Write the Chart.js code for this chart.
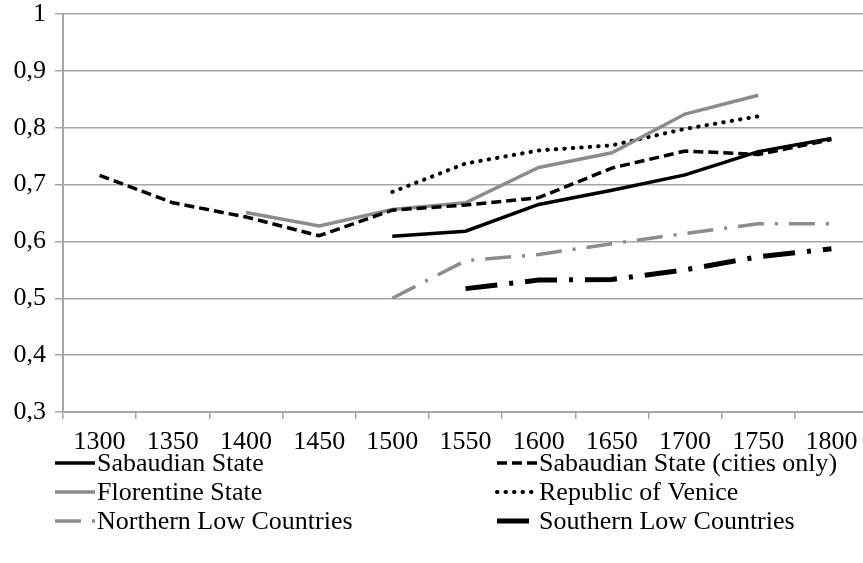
<!DOCTYPE html>
<html lang="en">
<head>
    <meta charset="UTF-8">
    <title>Gini by state</title>
    <script src="https://cdn.jsdelivr.net/npm/chart.js"></script>
    <style>
        html, body {
            margin: 0;
            padding: 0;
            background: #ffffff;
            overflow: hidden;
        }
    </style>
</head>
<body>
    <canvas id="chart" width="875" height="563"></canvas>

    <script>
        // categories and series
        const years = ["1300", "1350", "1400", "1450", "1500", "1550", "1600", "1650", "1700", "1750", "1800"];
        const yTickLabels = ["0,3", "0,4", "0,5", "0,6", "0,7", "0,8", "0,9", "1"];

        const sabaudian       = [null, null, null, null, 0.609, 0.618, 0.665, 0.690, 0.717, 0.758, 0.781];
        const sabaudianCities = [0.716, 0.668, 0.643, 0.610, 0.655, 0.664, 0.677, 0.729, 0.759, 0.753, 0.779];
        const florentine      = [null, null, 0.651, 0.627, 0.656, 0.668, 0.730, 0.756, 0.824, 0.857, null];
        const venice          = [null, null, null, null, 0.687, 0.737, 0.760, 0.769, 0.798, 0.820, null];
        const northernLC      = [null, null, null, null, 0.500, 0.566, 0.577, 0.596, 0.614, 0.631, 0.631];
        const southernLC      = [null, null, null, null, null, 0.517, 0.532, 0.533, 0.550, 0.573, 0.587];

        const seriesNames = [
            "Sabaudian State",
            "Sabaudian State (cities only)",
            "Florentine State",
            "Republic of Venice",
            "Northern Low Countries",
            "Southern Low Countries"
        ];

        const FONT = "'Liberation Serif', 'DejaVu Serif', serif";
        const GRID = "#a6a6a6";
        const GREY = "#8c8c8c";

        // legend drawn in two columns under the axis, like the original
        const legendPlugin = {
            id: "twoColLegend",
            afterDraw(chart) {
                const ctx = chart.ctx;
                const colX = [55, 497];
                const rowY = [463, 492, 521];
                ctx.save();
                ctx.font = "26px " + FONT;
                ctx.textBaseline = "middle";
                ctx.fillStyle = "#000";
                chart.data.datasets.forEach((ds, i) => {
                    const x = colX[i % 2];
                    const y = rowY[Math.floor(i / 2)];
                    ctx.beginPath();
                    ctx.strokeStyle = ds.borderColor;
                    ctx.lineWidth = ds.borderWidth;
                    ctx.lineCap = ds.borderCapStyle || "butt";
                    ctx.setLineDash(ds.borderDash || []);
                    ctx.moveTo(x, y);
                    ctx.lineTo(x + 40, y);
                    ctx.stroke();
                    ctx.setLineDash([]);
                    ctx.fillText(ds.label, x + 42, y + 1);
                });
                ctx.restore();
            }
        };

        new Chart(document.getElementById("chart"), {
            type: "line",
            data: {
                labels: years,
                datasets: [
                    { label: seriesNames[0], data: sabaudian, borderColor: "#000", borderWidth: 3.5, borderDash: [] },
                    { label: seriesNames[1], data: sabaudianCities, borderColor: "#000", borderWidth: 3.5, borderDash: [10, 5] },
                    { label: seriesNames[2], data: florentine, borderColor: GREY, borderWidth: 3.5, borderDash: [] },
                    { label: seriesNames[3], data: venice, borderColor: "#000", borderWidth: 4, borderDash: [0.5, 8], borderCapStyle: "round" },
                    { label: seriesNames[4], data: northernLC, borderColor: GREY, borderWidth: 3.5, borderDash: [26, 11, 3, 11] },
                    { label: seriesNames[5], data: southernLC, borderColor: "#000", borderWidth: 5, borderDash: [32, 12, 4, 12] }
                ]
            },
            options: {
                responsive: false,
                animation: false,
                spanGaps: false,
                elements: {
                    point: { radius: 0 },
                    line: { tension: 0, fill: false }
                },
                layout: {
                    padding: { top: 14, right: 7, left: 0, bottom: 0 }
                },
                plugins: {
                    legend: { display: false },
                    tooltip: { enabled: false }
                },
                scales: {
                    x: {
                        type: "category",
                        offset: true,
                        grid: {
                            offset: true,
                            drawOnChartArea: false,
                            drawTicks: true,
                            tickLength: 7,
                            color: GRID,
                            lineWidth: 1.5
                        },
                        border: { display: true, color: GRID, width: 2 },
                        ticks: {
                            color: "#000",
                            font: { family: FONT, size: 26 },
                            padding: 8,
                            maxRotation: 0,
                            autoSkip: false
                        },
                        afterFit(scale) {
                            scale.height = 151;
                            scale.paddingLeft = 0;
                            scale.paddingRight = 0;
                        }
                    },
                    y: {
                        min: 0.3,
                        max: 1,
                        grid: {
                            color: GRID,
                            lineWidth: 1.5,
                            tickLength: 8
                        },
                        border: { display: true, color: GRID, width: 2 },
                        ticks: {
                            stepSize: 0.1,
                            color: "#000",
                            font: { family: FONT, size: 26, lineHeight: 1 },
                            padding: 9,
                            callback: (v) => yTickLabels[Math.round((v - 0.3) * 10)]
                        },
                        afterFit(scale) {
                            scale.width = 63;
                            scale.paddingTop = 0;
                            scale.paddingBottom = 0;
                        }
                    }
                }
            },
            plugins: [legendPlugin]
        });
    </script>
</body>
</html>
